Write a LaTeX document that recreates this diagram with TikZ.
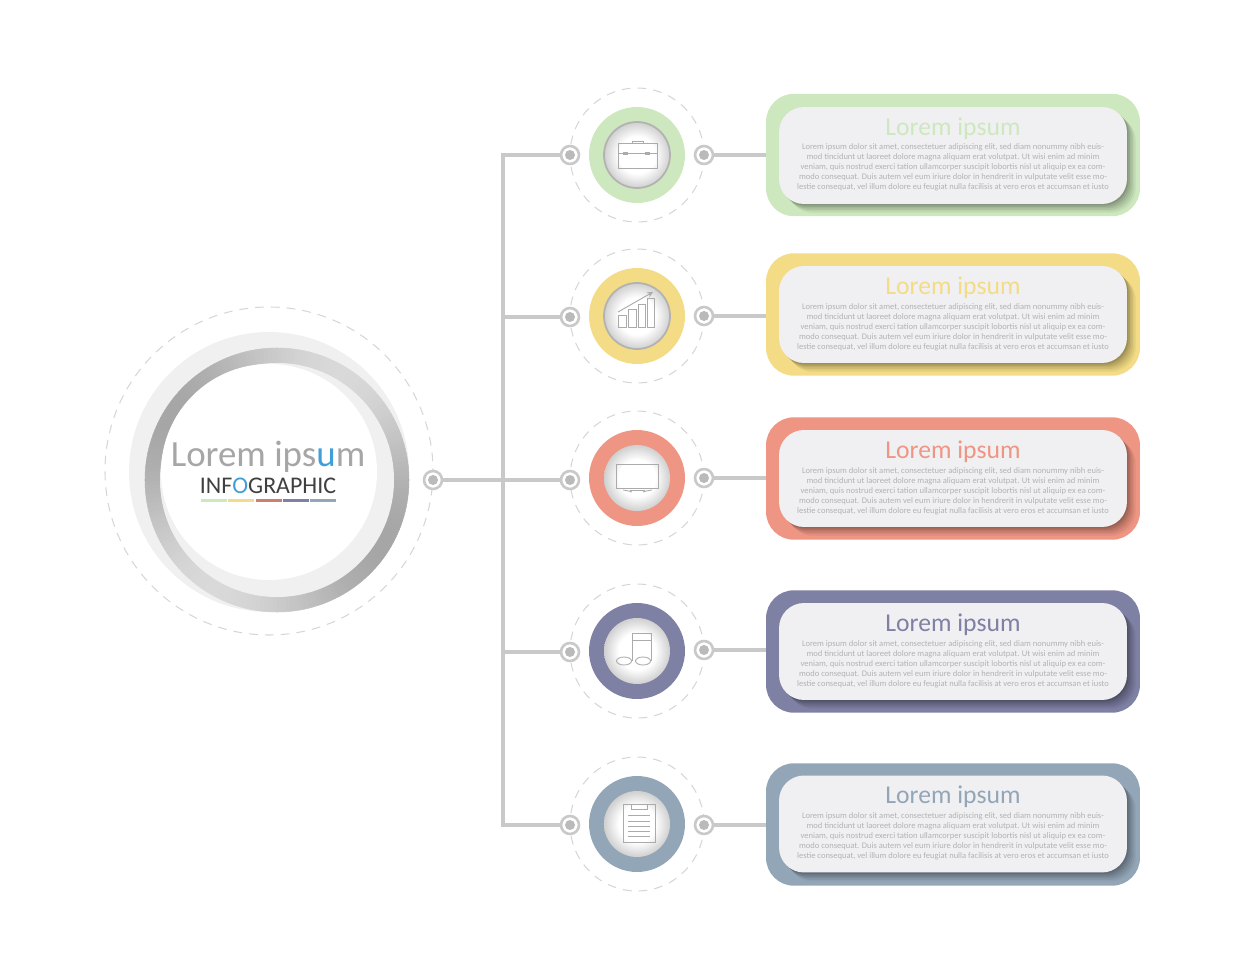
\documentclass[tikz,border=0pt]{standalone}
\usepackage{fontspec}
\setmainfont{Carlito}
\usetikzlibrary{shadows}

\definecolor{cardgreen}{HTML}{CDE8BE}
\definecolor{cardyellow}{HTML}{F3DC85}
\definecolor{cardred}{HTML}{EF9583}
\definecolor{cardpurple}{HTML}{7E80A4}
\definecolor{cardslate}{HTML}{93A6B8}
\definecolor{facegray}{HTML}{F0F0F2}
\definecolor{linegray}{HTML}{C9C9C9}
\definecolor{dashgray}{HTML}{D6D6D6}
\definecolor{icongray}{HTML}{ABABAB}
\definecolor{accentblue}{HTML}{3F9FD8}

\pgfdeclareradialshading{itemglow}{\pgfpoint{0bp}{0bp}}{color(0bp)=(white); color(14bp)=(white); color(35.35bp)=(black!36); color(50bp)=(black!36)}

\newcommand{\loremtext}{Lorem ipsum dolor sit amet, consectetuer adipiscing elit, sed diam nonummy nibh euis-\\
mod tincidunt ut laoreet dolore magna aliquam erat volutpat. Ut wisi enim ad minim\\
veniam, quis nostrud exerci tation ullamcorper suscipit lobortis nisl ut aliquip ex ea com-\\
modo consequat. Duis autem vel eum iriure dolor in hendrerit in vulputate velit esse mo-\\
lestie consequat, vel illum dolore eu feugiat nulla facilisis at vero eros et accumsan et iusto}

\tikzset{
  halo/.style = {draw = dashgray, line width = 0.6pt, dash pattern = on 5pt off 4pt},
  link/.style = {draw = linegray, line width = 2.3pt},
  port/.style = {circle, draw = linegray, line width = 1.5pt, fill = white, minimum size = 0.36cm, inner sep = 0pt,
    path picture = {\fill[black!27] (path picture bounding box.center) circle (0.1cm);}},
  itemdisc/.style = {circle, minimum size = 1.92cm, inner sep = 0pt},
  itemglowdisc/.style = {circle, minimum size = 1.32cm, inner sep = 0pt, shading = itemglow},
  card/.style = {rectangle, rounded corners = 0.56cm, minimum width = 7.48cm, minimum height = 2.45cm, inner sep = 0pt},
  cardface/.style = {rectangle, rounded corners = 0.5cm, minimum width = 6.96cm, minimum height = 1.94cm, inner sep = 0pt, fill = facegray,
    drop shadow = {shadow xshift = 0.18cm, shadow yshift = -0.18cm, fill = black, opacity = 0.04},
    drop shadow = {shadow xshift = 0.15cm, shadow yshift = -0.15cm, fill = black, opacity = 0.05},
    drop shadow = {shadow xshift = 0.12cm, shadow yshift = -0.12cm, fill = black, opacity = 0.06},
    drop shadow = {shadow xshift = 0.09cm, shadow yshift = -0.09cm, fill = black, opacity = 0.07},
    drop shadow = {shadow xshift = 0.06cm, shadow yshift = -0.06cm, fill = black, opacity = 0.08},
    drop shadow = {shadow xshift = 0.03cm, shadow yshift = -0.03cm, fill = black, opacity = 0.10}},
  cardtitle/.style = {font = \fontsize{14.6}{17}\selectfont, inner sep = 0pt},
  cardtext/.style = {font = \fontsize{4.85}{5.7}\selectfont, align = center, text = black!30, inner sep = 0pt},
  icon/.style = {draw = icongray, line width = 0.5pt}
}

\begin{document}
\begin{tikzpicture}[x = 0.02cm, y = -0.02cm]
    \useasboundingbox (0,0) rectangle (1245,980);

    % big circle on the left
    \draw[halo] (269,471) circle[radius = 164];
    \fill[black!6] (269,472) circle[radius = 140];
    \foreach \a [evaluate = \a as \p using 25 + 10*cos(2*(\a + 150))] in {0,2,...,358}
        \filldraw[black!\p, line width = 0.3pt] (277,480) -- ++(\a:132) arc[start angle = \a, delta angle = 2, radius = 132] -- cycle;
    \fill[black!6] (277,480) circle[radius = 117];
    \fill[white] (269,472) circle[radius = 108];
    \node[font = \fontsize{21}{25}\selectfont, text = black!35, inner sep = 0pt] (hubtitle) at (268,457) {Lorem ips\textcolor{accentblue}{u}m};
    \node[font = \fontsize{13.6}{15}\selectfont, text = black!75, inner sep = 0pt] (hubsub) at (268,486) {INF\textcolor{accentblue}{O}GRAPHIC};
    \fill[cardgreen] (201,498.5) rectangle (227,502);
    \fill[cardyellow] (228,498.5) rectangle (254,502);
    \fill[cardred!85!black] (256,498.5) rectangle (282,502);
    \fill[cardpurple] (283,498.5) rectangle (309,502);
    \fill[cardslate] (310,498.5) rectangle (336,502);

    % dashed circles round the items
    \draw[halo] (637,155) circle[radius = 67];
    \draw[halo] (637,316) circle[radius = 67];
    \draw[halo] (637,478) circle[radius = 67];
    \draw[halo] (637,651) circle[radius = 67];
    \draw[halo] (637,824) circle[radius = 67];

    % items
    \node[itemdisc, fill = cardgreen] (item1) at (637,155) {};
    \node[itemdisc, fill = cardyellow] (item2) at (637,316) {};
    \node[itemdisc, fill = cardred] (item3) at (637,478) {};
    \node[itemdisc, fill = cardpurple] (item4) at (637,651) {};
    \node[itemdisc, fill = cardslate] (item5) at (637,824) {};
    \node[itemglowdisc, draw = black!30, line width = 1pt] (glow1) at (item1) {};
    \node[itemglowdisc, draw = black!30, line width = 1pt] (glow2) at (item2) {};
    \node[itemglowdisc] (glow3) at (item3) {};
    \node[itemglowdisc] (glow4) at (item4) {};
    \node[itemglowdisc] (glow5) at (item5) {};

    % briefcase
    \draw[icon] (618,143) rectangle (657,168);
    \draw[icon] (618,153) -- (657,153);
    \draw[icon] (632,143) -- (632,141) -- (643,141) -- (643,143);
    \draw[icon] (623,152) rectangle (627,154);
    \draw[icon] (645,152) rectangle (649,154);
    % chart
    \draw[icon] (618,315) rectangle (626,327);
    \draw[icon] (628,309) rectangle (636,327);
    \draw[icon] (638,304) rectangle (645,327);
    \draw[icon] (647,298) rectangle (654,327);
    \draw[icon, -stealth] (618,312) -- (653,292);
    % screen
    \draw[icon] (616,464) rectangle (658,488);
    \draw[icon] (623,490) .. controls (629,491) .. (632,492);
    \draw[icon] (652,490) .. controls (646,491) .. (643,492);
    \draw[icon] (630,490) -- (645,490);
    % notes
    \draw[icon] (632,661) -- (632,633) -- (651,633) -- (651,661);
    \draw[icon] (632,640) -- (651,640);
    \draw[icon] (624,661) ellipse[x radius = 7.5, y radius = 4];
    \draw[icon] (643,661) ellipse[x radius = 7.5, y radius = 4];
    % clipboard
    \draw[icon] (623,804) rectangle (655,842);
    \draw[icon] (631,804) rectangle (647,809);
    \draw[icon] (628,815) -- (650,815);
    \draw[icon] (628,821) -- (650,821);
    \draw[icon] (628,826) -- (650,826);
    \draw[icon] (628,831) -- (650,831);
    \draw[icon] (628,836) -- (650,836);

    % cards
    \node[card, fill = cardgreen] (card1) at (953,155) {};
    \node[card, fill = cardyellow] (card2) at (953,314.5) {};
    \node[card, fill = cardred] (card3) at (953,478.5) {};
    \node[card, fill = cardpurple] (card4) at (953,651.5) {};
    \node[card, fill = cardslate] (card5) at (953,824.5) {};
    \node[cardface] (face1) at (953,155.5) {};
    \node[cardface] (face2) at (953,314.5) {};
    \node[cardface] (face3) at (953,478.5) {};
    \node[cardface] (face4) at (953,651.5) {};
    \node[cardface] (face5) at (953,824) {};
    \node[cardtitle, text = cardgreen] (title1) at (953,128.5) {Lorem ipsum};
    \node[cardtitle, text = cardyellow] (title2) at (953,287.5) {Lorem ipsum};
    \node[cardtitle, text = cardred] (title3) at (953,451.5) {Lorem ipsum};
    \node[cardtitle, text = cardpurple] (title4) at (953,624.5) {Lorem ipsum};
    \node[cardtitle, text = cardslate] (title5) at (953,797) {Lorem ipsum};
    \node[cardtext] (text1) at (953,167.5) {\loremtext};
    \node[cardtext] (text2) at (953,327.5) {\loremtext};
    \node[cardtext] (text3) at (953,491.5) {\loremtext};
    \node[cardtext] (text4) at (953,664.5) {\loremtext};
    \node[cardtext] (text5) at (953,836.5) {\loremtext};

    % small circles on the lines
    \node[port] (hubport) at (433,480) {};
    \node[port] (left1) at (570,155) {};
    \node[port] (left2) at (570,317) {};
    \node[port] (left3) at (570,480) {};
    \node[port] (left4) at (570,652) {};
    \node[port] (left5) at (570,825) {};
    \node[port] (right1) at (704,155) {};
    \node[port] (right2) at (704,316) {};
    \node[port] (right3) at (704,478) {};
    \node[port] (right4) at (704,650) {};
    \node[port] (right5) at (704,825) {};

    % lines
    \coordinate (joint1) at (503,155);
    \coordinate (joint2) at (503,317);
    \coordinate (joint3) at (503,480);
    \coordinate (joint4) at (503,652);
    \coordinate (joint5) at (503,825);
    \draw[link] (left1) -- (joint1) -- (joint5) -- (left5);
    \draw[link] (hubport) -- (left3);
    \draw[link] (joint2) -- (left2);
    \draw[link] (joint4) -- (left4);
    \draw[link] (right1) -- (right1 -| card1.west);
    \draw[link] (right2) -- (right2 -| card2.west);
    \draw[link] (right3) -- (right3 -| card3.west);
    \draw[link] (right4) -- (right4 -| card4.west);
    \draw[link] (right5) -- (right5 -| card5.west);
\end{tikzpicture}
\end{document}
